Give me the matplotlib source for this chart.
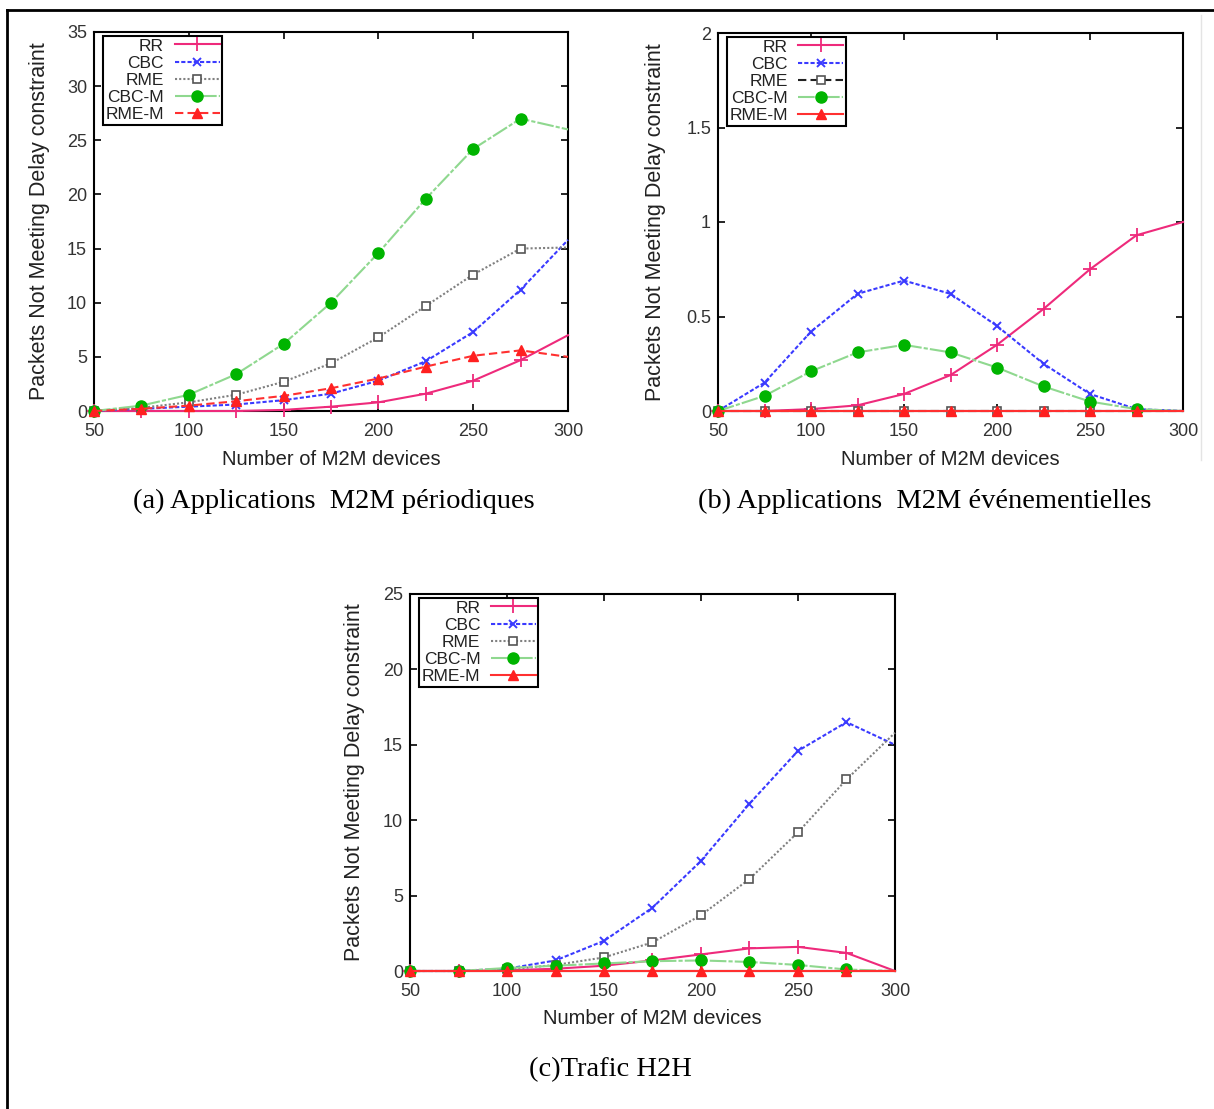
import matplotlib
matplotlib.use('Agg')
import matplotlib.pyplot as plt
from matplotlib.lines import Line2D

# number of M2M devices (x axis, all three panels)
devices = [50, 75, 100, 125, 150, 175, 200, 225, 250, 275, 300]
series_names = ['RR', 'CBC', 'RME', 'CBC-M', 'RME-M']

# (a) periodic M2M applications
periodic_rr = [0, 0, 0, 0, 0.1, 0.4, 0.8, 1.6, 2.8, 4.7, 7.0]
periodic_cbc = [0, 0.2, 0.4, 0.6, 1.0, 1.6, 2.8, 4.6, 7.3, 11.2, 15.8]
periodic_rme = [0, 0.3, 0.8, 1.5, 2.7, 4.4, 6.8, 9.7, 12.6, 15.0, 15.1]
periodic_cbcm = [0, 0.5, 1.5, 3.4, 6.2, 10.0, 14.6, 19.6, 24.2, 27.0, 26.0]
periodic_rmem = [0, 0.2, 0.5, 0.9, 1.4, 2.1, 3.0, 4.1, 5.1, 5.6, 5.0]

# (b) event driven M2M applications
event_rr = [0, 0, 0.01, 0.03, 0.09, 0.19, 0.35, 0.54, 0.75, 0.93, 1.0]
event_cbc = [0, 0.15, 0.42, 0.62, 0.69, 0.62, 0.45, 0.25, 0.09, 0.01, 0.0]
event_rme = [0, 0, 0, 0, 0, 0, 0, 0, 0, 0, 0]
event_cbcm = [0, 0.08, 0.21, 0.31, 0.35, 0.31, 0.23, 0.13, 0.05, 0.01, 0.0]
event_rmem = [0, 0, 0, 0, 0, 0, 0, 0, 0, 0, 0]

# (c) H2H traffic
h2h_rr = [0, 0, 0.05, 0.15, 0.35, 0.7, 1.1, 1.5, 1.6, 1.2, 0.0]
h2h_cbc = [0, 0, 0.15, 0.7, 2.0, 4.2, 7.3, 11.1, 14.6, 16.5, 15.0]
h2h_rme = [0, 0, 0.1, 0.4, 0.9, 1.9, 3.7, 6.1, 9.2, 12.7, 15.8]
h2h_cbcm = [0, 0, 0.2, 0.35, 0.5, 0.65, 0.7, 0.6, 0.4, 0.1, 0.0]
h2h_rmem = [0, 0, 0, 0, 0, 0, 0, 0, 0, 0, 0]

captions = ['(a) Applications  M2M périodiques',
            '(b) Applications  M2M événementielles',
            '(c)Trafic H2H']

NARROW = ['Liberation Sans Narrow', 'Liberation Sans', 'DejaVu Sans']
SERIF = ['Liberation Serif', 'DejaVu Serif']

# gnuplot like styles: color, linestyle, marker, marker face
base_styles = {
    'RR':    dict(color='#ee2a7b', ls='-', marker='+', ms=10, mew=1.3, mfc='#ee2a7b', mec='#ee2a7b'),
    'CBC':   dict(color='#3a3aff', ls=(0, (2, 1)), marker='x', ms=6, mew=1.4, mfc='#3a3aff', mec='#3a3aff'),
    'RME':   dict(color='#808080', ls=(0, (1, 1)), marker='s', ms=6, mew=1.2, mfc='white', mec='#555555'),
    'CBC-M': dict(color='#8fd88f', ls=(0, (8, 1, 2, 1)), marker='o', ms=8, mew=1, mfc='#00b400', mec='#00b400'),
    'RME-M': dict(color='#ff3030', ls=(0, (4, 2)), marker='^', ms=6.5, mew=1, mfc='#ff2020', mec='#ff2020'),
}


def draw_panel(ax, values, ymax, ystep, styles, ylabel_x):
    for name, yv in zip(series_names, values):
        st = styles[name]
        ax.plot(devices, yv, color=st['color'], linestyle=st['ls'], lw=1.5,
                marker=st['marker'], markersize=st['ms'], markeredgewidth=st['mew'],
                markerfacecolor=st['mfc'], markeredgecolor=st['mec'],
                markevery=list(range(10)), label=name, clip_on=False, zorder=3)
    ax.set_xlim(50, 300)
    ax.set_ylim(0, ymax)
    ax.set_xticks([50, 100, 150, 200, 250, 300])
    yt = [i * ystep for i in range(int(round(ymax / ystep)) + 1)]
    ax.set_yticks(yt)
    ax.set_yticklabels(['%g' % t for t in yt])
    ax.tick_params(direction='in', top=True, right=True, length=5, width=1.2,
                   labelsize=13, labelcolor='#333333')
    ax.tick_params(axis='x', pad=8.5)
    ax.tick_params(axis='y', pad=5)
    for lab in ax.get_xticklabels() + ax.get_yticklabels():
        lab.set_family(NARROW)
    for sp in ax.spines.values():
        sp.set_linewidth(1.5)
    ax.set_xlabel('Number of M2M devices', family=NARROW, fontsize=14.5, color='#222222')
    ax.set_ylabel('Packets Not Meeting Delay constraint', family=['Liberation Sans', 'DejaVu Sans'],
                  fontsize=15.5, color='#222222')
    ax.xaxis.set_label_coords(0.5, -0.102)
    ax.yaxis.set_label_coords(ylabel_x, 0.5)
    ax.yaxis.label.set_verticalalignment('center')
    leg = ax.legend(loc='upper left', bbox_to_anchor=(0.019, 0.99), borderaxespad=0,
                    markerfirst=False, fancybox=False, framealpha=1, edgecolor='black',
                    prop=dict(family=NARROW, size=12.5), handlelength=2.6, handletextpad=0.6,
                    labelspacing=0.12, borderpad=0.15)
    leg.get_frame().set_linewidth(1.5)
    for t in leg.get_texts():
        t.set_color('#222222')


fig = plt.figure(figsize=(12.14, 11.09), dpi=100)

# outer table border (top and left edges visible)
fig.add_artist(Line2D([7 / 1214, 1], [1 - 10 / 1109, 1 - 10 / 1109], color='black', lw=2))
fig.add_artist(Line2D([7 / 1214, 7 / 1214], [0, 1 - 10 / 1109], color='black', lw=2))
fig.add_artist(Line2D([1201 / 1214, 1201 / 1214], [1 - 460 / 1109, 1 - 15 / 1109], color='#e4e4e4', lw=1))

ax_a = fig.add_axes([94 / 1214, 698 / 1109, 474 / 1214, 379 / 1109])
ax_b = fig.add_axes([718 / 1214, 698 / 1109, 465 / 1214, 378 / 1109])
ax_c = fig.add_axes([410 / 1214, 138 / 1109, 485 / 1214, 377 / 1109])

styles_a = base_styles
styles_b = dict(base_styles)
styles_b['RME'] = dict(base_styles['RME'], color='#222222', ls=(0, (4, 2)))
styles_b['RME-M'] = dict(base_styles['RME-M'], ls='-')
styles_c = dict(base_styles)
styles_c['RME-M'] = dict(base_styles['RME-M'], ls='-')

draw_panel(ax_a, [periodic_rr, periodic_cbc, periodic_rme, periodic_cbcm, periodic_rmem],
           35, 5, styles_a, -0.114)
draw_panel(ax_b, [event_rr, event_cbc, event_rme, event_cbcm, event_rmem],
           2, 0.5, styles_b, -0.135)
draw_panel(ax_c, [h2h_rr, h2h_cbc, h2h_rme, h2h_cbcm, h2h_rmem],
           25, 5, styles_c, -0.115)

fig.text(334 / 1214, 1 - 501 / 1109, captions[0], family=SERIF, fontsize=20.5, ha='center', va='center')
fig.text(925 / 1214, 1 - 501 / 1109, captions[1], family=SERIF, fontsize=20.5, ha='center', va='center')
fig.text(610 / 1214, 1 - 1070 / 1109, captions[2], family=SERIF, fontsize=20.5, ha='center', va='center')

fig.savefig('out.png', dpi=100)
